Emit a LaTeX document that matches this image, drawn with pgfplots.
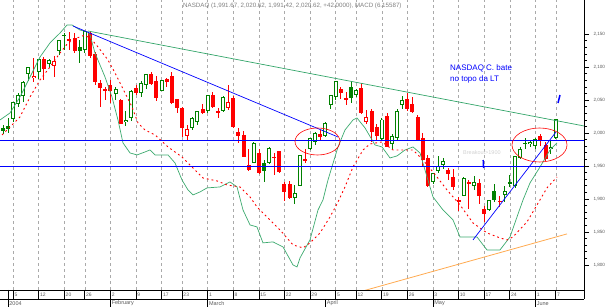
\documentclass[border=0pt]{standalone}
\usepackage{pgfplots}
\pgfplotsset{compat=1.18}
\usepackage{pgfplotstable}
\usepackage{fontspec}
\setmainfont{Liberation Sans}
\definecolor{cgreen}{RGB}{0,128,0}
\definecolor{cred}{RGB}{255,0,0}
\definecolor{band}{RGB}{60,170,110}
\definecolor{tline}{RGB}{50,165,105}
\definecolor{cblue}{RGB}{0,0,255}
\definecolor{corange}{RGB}{255,170,80}
\definecolor{gridc}{RGB}{170,170,170}
\definecolor{labc}{RGB}{90,90,90}

% k: 1 = up hollow (green), 2 = down hollow (red), 3 = up filled (green), 4 = down filled (red)
\pgfplotstableread{
i o h l c k
-1 2008.0 2012.0 1998.0 2003.4 3
0 2011.1 2022.4 1999.8 2006.7 3
1 2020.8 2047.4 2017.0 2047.4 1
2 2044.5 2059.9 2039.0 2057.4 1
3 2056.0 2078.0 2047.0 2077.7 1
4 2089.0 2100.3 2078.0 2100.3 1
5 2083.0 2113.3 2077.0 2086.9 2
6 2092.0 2112.0 2082.0 2111.8 1
7 2112.0 2115.0 2080.0 2096.4 4
8 2104.0 2112.0 2098.0 2111.1 1
9 2101.0 2116.0 2085.0 2109.1 2
10 2124.0 2140.8 2118.0 2140.5 1
11 2148.5 2152.0 2126.0 2148.0 3
12 2140.0 2153.0 2125.0 2142.5 2
13 2144.0 2151.0 2121.0 2123.9 4
14 2130.0 2141.0 2106.0 2124.4 3
15 2125.0 2153.8 2121.0 2153.8 1
16 2151.0 2155.0 2114.0 2116.0 4
17 2120.0 2122.0 2073.0 2077.4 4
18 2076.0 2080.0 2040.0 2068.2 4
19 2064.0 2070.0 2050.0 2066.2 2
20 2072.0 2080.0 2045.0 2063.2 4
21 2059.0 2070.0 2050.0 2066.2 1
22 2050.0 2052.0 2013.0 2014.1 4
23 2016.0 2033.0 2010.0 2019.6 1
24 2022.0 2064.5 2018.0 2064.0 1
25 2068.0 2072.0 2058.0 2060.6 4
26 2060.0 2079.0 2055.0 2075.3 1
27 2073.0 2090.0 2066.0 2089.7 1
28 2090.0 2093.0 2072.0 2073.6 4
29 2078.0 2086.0 2048.0 2053.6 4
30 2064.0 2081.0 2063.0 2080.4 1
31 2082.0 2084.0 2070.0 2076.5 4
32 2086.0 2092.0 2044.0 2046.0 4
33 2051.0 2052.0 2030.0 2037.9 4
34 2038.0 2040.0 1994.0 2007.5 4
35 1996.0 2012.0 1990.0 2005.4 2
36 2007.0 2024.0 2004.0 2023.0 1
37 2017.0 2034.0 2012.0 2032.6 1
38 2036.0 2044.0 2028.0 2029.8 4
39 2033.0 2058.0 2030.0 2057.8 1
40 2057.0 2062.0 2038.0 2039.7 4
41 2031.0 2038.0 2022.0 2033.4 2
42 2034.0 2056.0 2032.0 2055.1 1
43 2038.0 2073.0 2035.0 2047.6 2
44 2053.0 2056.0 2008.0 2008.5 4
45 2001.0 2008.0 1985.0 1995.2 4
46 1997.0 2003.0 1963.0 1964.2 4
47 1952.0 1975.0 1942.0 1943.9 4
48 1955.0 1986.0 1954.0 1984.7 1
49 1970.0 1975.0 1938.0 1939.2 4
50 1955.0 1959.0 1925.0 1943.1 3
51 1954.0 1978.0 1953.0 1976.8 1
52 1964.0 1969.0 1937.0 1962.4 4
53 1972.0 1973.0 1940.0 1940.5 4
54 1922.0 1926.0 1897.0 1909.9 4
55 1922.0 1927.0 1900.0 1901.8 4
56 1902.0 1921.0 1893.0 1909.5 1
57 1920.0 1967.2 1919.0 1967.2 1
58 1959.0 1975.0 1955.0 1960.0 2
59 1975.0 1993.0 1974.0 1992.6 1
60 1987.0 2001.0 1982.0 2000.6 1
61 1999.0 2004.0 1989.0 1994.2 4
62 1996.0 2016.0 1994.0 2015.0 1
63 2043.0 2058.0 2037.0 2057.2 1
64 2055.0 2079.2 2050.0 2079.1 1
65 2066.0 2069.0 2052.0 2059.9 4
66 2053.0 2062.0 2043.0 2050.2 4
67 2070.0 2079.0 2045.0 2052.9 3
68 2057.0 2067.0 2055.0 2065.5 1
69 2068.0 2075.0 2029.0 2030.1 4
70 2016.0 2035.0 2013.0 2024.9 2
71 2034.0 2036.0 1986.0 2002.2 4
72 2009.0 2013.0 1990.0 1995.7 4
73 1991.0 2022.0 1990.0 2020.4 1
74 2025.0 2031.0 1978.0 1978.6 4
75 1983.0 1999.0 1976.0 1995.6 1
76 1993.0 2036.0 1988.0 2032.9 1
77 2043.0 2056.0 2036.0 2049.8 1
78 2052.0 2060.0 2033.0 2036.8 4
79 2044.0 2055.0 2030.0 2032.5 4
80 2024.0 2027.0 1989.0 1989.5 4
81 1993.0 2000.0 1948.0 1958.8 4
82 1962.0 1966.0 1918.0 1920.2 4
83 1925.0 1940.0 1922.0 1938.7 1
84 1943.0 1965.0 1940.0 1950.5 1
85 1952.0 1962.0 1945.0 1957.3 1
86 1944.0 1947.0 1929.0 1937.7 4
87 1934.0 1945.0 1914.0 1918.0 4
88 1898.0 1903.0 1881.0 1896.1 4
89 1905.0 1933.0 1904.0 1931.4 1
90 1923.0 1929.0 1884.0 1925.6 2
91 1920.0 1935.0 1913.0 1926.0 1
92 1924.0 1930.0 1892.0 1904.3 4
93 1885.0 1890.0 1865.0 1876.6 4
94 1883.0 1899.0 1881.0 1897.8 1
95 1912.0 1922.0 1895.0 1898.2 3
96 1897.0 1905.0 1888.0 1896.6 4
97 1906.0 1919.0 1895.0 1912.1 1
98 1925.0 1936.0 1918.0 1923.0 3
99 1920.0 1965.0 1916.0 1964.7 1
100 1962.0 1978.0 1960.0 1976.2 1
101 1984.0 1993.0 1976.0 1984.5 1
102 1983.0 1990.0 1978.0 1986.7 1
103 1980.0 1993.0 1975.0 1990.8 1
104 1995.0 1998.0 1980.0 1989.0 4
105 1982.0 1986.0 1958.0 1960.3 4
106 1975.0 1990.0 1968.0 1978.6 1
107 1991.7 2020.6 1991.4 2020.6 1
}\candles

\pgfplotstableread{
i p
-1.56 2019.7
0.39 2030.3
2.34 2054.5
4.30 2084.8
6.25 2115.1
8.20 2136.4
10.16 2151.5
11.52 2163.6
12.50 2163.6
14.06 2156.0
15.63 2153.0
16.02 2148.5
16.99 2121.2
18.95 2084.8
20.31 2054.5
21.48 2019.7
22.46 1984.9
23.83 1969.7
25.20 1966.7
26.76 1971.2
27.73 1974.2
28.71 1966.7
30.08 1966.7
31.25 1966.7
32.62 1954.5
33.98 1928.8
35.16 1913.6
36.13 1906.1
37.50 1910.6
38.87 1916.7
41.41 1918.2
43.36 1925.8
44.73 1918.2
45.90 1883.3
47.27 1860.6
48.63 1857.6
49.80 1833.4
51.76 1834.9
53.71 1827.3
55.66 1800.0
56.45 1797.0
57.03 1810.6
58.98 1837.9
60.55 1883.3
61.52 1898.5
62.50 1928.8
64.45 1978.8
65.82 2004.5
67.38 2019.7
68.16 2022.7
69.73 2007.6
71.68 1981.8
73.05 1978.8
74.61 1962.1
75.98 1965.2
77.54 1974.2
79.10 1978.8
80.47 1969.7
81.84 1933.3
83.01 1903.0
84.96 1883.3
86.91 1868.2
88.28 1842.4
90.23 1842.4
91.60 1842.4
93.55 1822.7
96.09 1822.7
98.05 1842.4
99.41 1872.7
100.59 1898.5
101.95 1924.2
103.91 1948.5
105.86 1974.2
107.23 1984.9
}\bandline

\pgfplotstableread{
i p
-1.17 1997.0
2.34 2024.2
4.30 2054.5
6.25 2080.3
8.20 2100.0
10.16 2121.2
11.72 2136.4
13.48 2143.9
15.04 2148.5
16.41 2140.9
17.58 2130.3
19.53 2110.6
20.90 2090.9
22.27 2069.7
24.22 2039.4
25.39 2015.2
26.76 2004.5
28.71 1997.0
31.25 1978.8
33.98 1963.6
35.94 1948.5
38.09 1931.8
40.82 1927.3
42.77 1921.2
45.31 1918.2
47.27 1903.0
48.63 1887.9
50.59 1872.7
53.13 1853.0
55.66 1830.3
57.62 1825.8
58.98 1833.4
60.94 1848.5
62.89 1872.7
64.26 1892.4
65.82 1918.2
67.38 1948.5
69.34 1974.2
70.70 1983.3
73.05 1986.4
75.20 1974.2
77.93 1974.2
79.10 1974.2
81.05 1959.1
83.79 1933.3
85.74 1913.6
88.28 1890.9
90.82 1863.6
93.55 1848.5
96.09 1840.9
97.46 1837.9
98.63 1842.4
101.37 1865.2
103.32 1890.9
105.27 1916.7
107.23 1933.3
}\maline

\newcommand\candleset[3]{%
  % #1 class, #2 colour, #3 hollow (1) or not (0)
  \addplot[draw=none, mark=none, forget plot,
    restrict expr to domain={\thisrow{k}}{#1:#1},
    error bars/.cd, y dir=both, y explicit, error mark=none,
    error bar style={draw=#2, line width=0.7pt}]
    table[x=i, y expr={(\thisrow{h}+\thisrow{l})/2},
          y error expr={(\thisrow{h}-\thisrow{l})/2}] {\candles};
  \addplot[draw=none, mark=none, forget plot,
    restrict expr to domain={\thisrow{k}}{#1:#1},
    error bars/.cd, y dir=both, y explicit, error mark=none,
    error bar style={draw=#2, line width=4pt}]
    table[x=i, y expr={(\thisrow{o}+\thisrow{c})/2},
          y error expr={max(abs(\thisrow{c}-\thisrow{o})/2,0.7)}] {\candles};
  \ifnum#3=1
  \addplot[draw=none, mark=none, forget plot,
    restrict expr to domain={\thisrow{k}}{#1:#1},
    error bars/.cd, y dir=both, y explicit, error mark=none,
    error bar style={draw=white, line width=2pt}]
    table[x=i, y expr={(\thisrow{o}+\thisrow{c})/2},
          y error expr={max(abs(\thisrow{c}-\thisrow{o})/2-1.5,0)}] {\candles};
  \fi
}

\begin{document}
\begin{tikzpicture}[x=1pt,y=1pt]
\useasboundingbox (0,-17) rectangle (610,290);
% weekly dashed grid
\foreach \i in {1,6,11,15,20,25,30,34,39,44,49,54,59,64,68,73,78,83,88,93,98,103,107}{
  \draw[gridc, line width=0.5pt, dash pattern=on 3pt off 3pt] ({8+5.12*\i},0) -- ({8+5.12*\i},290);
}
\begin{axis}[
  at={(0,0)}, anchor=south west,
  scale only axis, width=584pt, height=290pt,
  xmin=-1.5625, xmax=112.5, ymin=1762, ymax=2201.5,
  axis x line=none,
  axis y line*=right,
  y axis line style={-, black, line width=0.6pt},
  xtick=\empty,
  ytick={1800,1850,1900,1950,2000,2050,2100,2150},
  minor y tick num=4,
  tick align=outside,
  major tick length=5pt, minor tick length=3pt,
  ytick style={black, line width=0.5pt},
  yticklabel style={font=\fontsize{4.6}{5}\selectfont, text=labc, xshift=1pt},
  /pgf/number format/assume math mode=true,
  /pgf/number format/1000 sep={,},
]
\candleset{1}{cgreen}{1}
\candleset{3}{cgreen}{0}
\candleset{2}{cred}{1}
\candleset{4}{cred}{0}

\addplot[band, line width=0.7pt, mark=none] table[x=i, y=p] {\bandline};
\addplot[cred, line width=0.9pt, mark=none, dash pattern=on 1.8pt off 3pt] table[x=i, y=p] {\maline};

\addplot[tline, line width=0.7pt, mark=none] coordinates {(15.63,2154.5) (112.5,2010.6)};
\addplot[cblue, line width=0.7pt, mark=none] coordinates {(12.70,2162.1) (64.45,1993.9)};
\addplot[cblue, line width=0.8pt, mark=none] coordinates {(-1.5625,1989.4) (112.5,1989.4)};
\addplot[cblue, line width=0.8pt, mark=none] coordinates {(-1.5625,1950.0) (112.5,1950.0)};
\addplot[cblue, line width=0.7pt, mark=none] coordinates {(90.82,1837.9) (107.03,2001.5)};
\addplot[corange, line width=0.8pt, mark=none] coordinates {(69.34,1760.6) (109.18,1847.0)};
\end{axis}

% annotations
\draw[cred, line width=0.6pt] (317.5,148.5) ellipse [x radius=22.5pt, y radius=13.5pt];
\draw[cred, line width=0.6pt] (539.5,145) ellipse [x radius=27.5pt, y radius=17pt];
\node[anchor=west, text=cblue, font=\fontsize{8}{11}\selectfont, align=left, inner sep=0pt] at (450,216) {NASDAQ C. bate\\no topo da LT};
\node[anchor=west, text=black!18, font=\fontsize{5.5}{6}\selectfont, inner sep=0pt] at (463,137) {Breakout>1900};
\draw[cblue, line width=1.5pt] (483.2,130) -- (483.6,122);
\draw[cblue, line width=1.5pt] (558,187) -- (560,195);
\node[anchor=west, text=gray, font=\fontsize{6.2}{7}\selectfont, inner sep=0pt] at (183,284) {NASDAQ (1,991.67, 2,020.62, 1,991.42, 2,020.62, +42.0000), MACD (6.15587)};

% date strip
\draw[black, line width=0.7pt] (0,0) -- (584,0);
\draw[black, line width=0.7pt] (0,-9) -- (584,-9);
\draw[black, line width=0.7pt] (584,0) -- (584,-9);
\draw[black, line width=0.7pt] (8,0) -- (8,-17);
\foreach \i/\d in {1/5,6/12,11/20,15/26,20/2,25/9,30/17,34/23,39/1,44/8,49/15,54/22,59/29,64/5,68/12,73/19,78/26,83/3,88/10,93/17,98/24,103/1,107/7}{
  \draw[black, line width=0.7pt] ({8+5.12*\i},0) -- ({8+5.12*\i},-9);
  \node[anchor=west, inner sep=0pt, text=labc, font=\fontsize{5}{6}\selectfont] at ({8+5.12*\i+1.2},-4.6) {\d};
}
\foreach \i/\m in {0/2004,20/February,39/March,62/April,83/May,103/June}{
  \draw[black, line width=0.7pt] ({8+5.12*\i},-9) -- ({8+5.12*\i},-17);
  \node[anchor=west, inner sep=0pt, text=labc, font=\fontsize{5.5}{6}\selectfont] at ({8+5.12*\i+1.2},-13.2) {\m};
}
\end{tikzpicture}
\end{document}
